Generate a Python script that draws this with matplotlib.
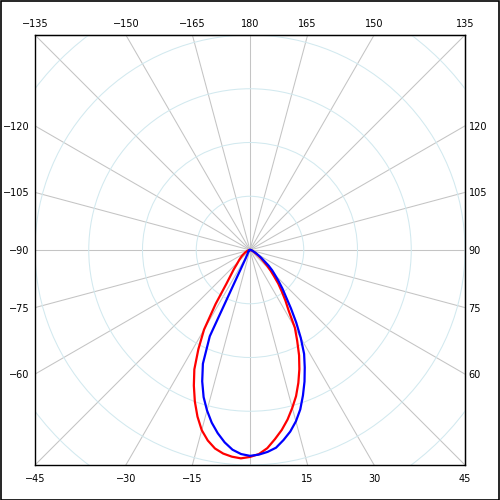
import numpy as np
import matplotlib.pyplot as plt
from matplotlib.patches import Circle, Rectangle

# gamma angles (deg, 0 = straight down, + to the right), 2.5 deg steps
angles = [-90 + 2.5 * i for i in range(73)]
red_vals = [0, 0, 0, 1, 2, 3, 4, 5, 6, 7,
            8, 10, 12, 14, 17, 20, 23, 27, 31, 37,
            47, 58, 76, 119, 171, 208, 245, 273, 300, 325,
            347, 363, 375, 382, 386, 388, 385, 380, 370, 355,
            340, 323, 304, 285, 263, 240, 216, 190, 167, 134,
            115, 97, 82, 66, 54, 43, 33, 26, 20, 15,
            11, 9, 7, 6, 5, 4, 3, 2, 2, 1,
            0, 0, 0]
blue_vals = [0, 0, 0, 0, 0, 1, 1, 1, 1, 2,
             2, 2, 2, 2, 2, 3, 3, 3, 4, 4,
             5, 6, 7, 8, 11, 17, 177, 229, 260, 287,
             309, 329, 346, 361, 373, 380, 383, 381, 377, 371,
             359, 346, 330, 311, 288, 265, 241, 218, 189, 160,
             133, 110, 94, 79, 66, 56, 45, 33, 26, 20,
             15, 12, 9, 7, 6, 5, 4, 3, 2, 1,
             1, 0, 0]

rings = [100, 200, 300, 400, 500]
spokes = list(range(0, 360, 15))
R = 400  # half size of the square frame

bottom_lbl = [-45, -30, -15, 15, 30, 45]
top_lbl = [-135, -150, -165, 180, 165, 150, 135]
left_lbl = [-120, -105, -90, -75, -60]
right_lbl = [120, 105, 90, 75, 60]


def fmt(a):
    return str(a).replace("-", "\u2212")


def to_xy(ang, r):
    t = np.radians(ang)
    r = np.asarray(r, dtype=float)
    return r * np.sin(t), -r * np.cos(t)


fig = plt.figure(figsize=(5, 5), dpi=100)
fig.patches.append(Rectangle((0.001, 0.001), 0.997, 0.997, transform=fig.transFigure,
                             fill=False, edgecolor="black", linewidth=1.2))
ax = fig.add_axes([35 / 500, 35 / 500, 430 / 500, 430 / 500])
ax.set_xlim(-R, R)
ax.set_ylim(-R, R)

for a in spokes:
    x, y = to_xy([a, a], [0, 700])
    ax.plot(x, y, color="#c4c4c4", lw=0.75, zorder=1)
for r in rings:
    ax.add_patch(Circle((0, 0), r, fill=False, edgecolor="#d2e9ef", lw=0.75, zorder=1))

x, y = to_xy(angles, red_vals)
ax.plot(x, y, color="#ff0000", lw=1.6, zorder=3)
x, y = to_xy(angles, blue_vals)
ax.plot(x, y, color="#0000ff", lw=1.6, zorder=4)

for s in ax.spines.values():
    s.set_linewidth(1.0)

fs = 7
ax.set_xticks(R * np.tan(np.radians(bottom_lbl)))
ax.set_xticklabels([fmt(a) for a in bottom_lbl])
ax.set_yticks(R / np.tan(np.radians(left_lbl)))
ax.set_yticklabels([fmt(a) for a in left_lbl])
ax.tick_params(axis="x", length=0, pad=6.5, labelsize=fs)
ax.tick_params(axis="y", length=0, pad=4, labelsize=fs)

top = ax.secondary_xaxis("top")
top.set_xticks(-R * np.tan(np.radians(top_lbl)))
top.set_xticklabels([fmt(a) for a in top_lbl])
top.tick_params(length=0, pad=4, labelsize=fs)

right = ax.secondary_yaxis("right")
right.set_yticks(-R / np.tan(np.radians(right_lbl)))
right.set_yticklabels([fmt(a) for a in right_lbl])
right.tick_params(length=0, pad=2.5, labelsize=fs)

plt.savefig("out.png", dpi=100)
